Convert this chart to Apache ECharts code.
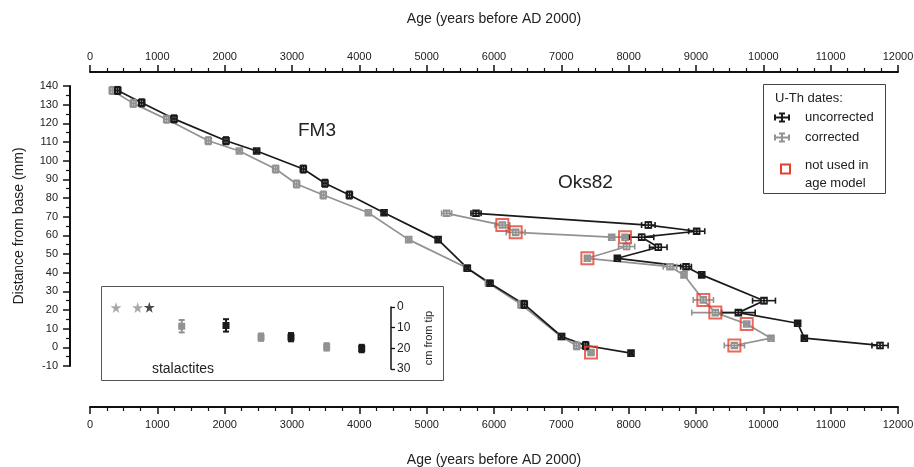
<!DOCTYPE html>
<html>
<head>
<meta charset="utf-8">
<script src="https://cdn.jsdelivr.net/npm/echarts@6/dist/echarts.min.js"></script>
<style>
html,body{margin:0;padding:0;background:#fff;}
#chart{width:914px;height:467px;}
</style>
</head>
<body>
<div id="chart"></div>
<script>
// ---------- DATA ----------
// FM3 uncorrected U-Th ages
const fm3UncAge      = [412, 768, 1248, 2020, 2475, 3168, 3490, 3852, 4367, 5170, 5604, 5941, 6450, 7005, 7361, 8035];
const fm3UncDepth    = [137.6, 131, 122.4, 110.7, 105.2, 95.5, 87.9, 81.6, 72.1, 57.7, 42.4, 34.3, 23, 5.8, 1, -3.1];
const fm3UncAgeErr   = [30, 30, 30, 30, 20, 30, 30, 30, 20, 20, 20, 20, 30, 20, 30, 20];
const fm3UncDepthErr = [2, 2, 2, 2, 0.8, 2, 2, 2, 0.8, 0.8, 0.8, 0.8, 2, 0.8, 2, 0.8];
// FM3 corrected
const fm3CorAge      = [331, 643, 1139, 1757, 2218, 2757, 3069, 3465, 4134, 4733, 5594, 5916, 6401, 6995, 7228, 7441];
const fm3CorDepth    = [137.6, 130.7, 122.2, 110.7, 105.2, 95.5, 87.5, 81.6, 72.1, 57.7, 42.6, 34.5, 23, 5.8, 0.8, -2.8];
const fm3CorAgeErr   = [30, 30, 30, 30, 20, 30, 30, 30, 20, 20, 20, 20, 30, 20, 30, 20];
const fm3CorDepthErr = [2, 2, 2, 2, 0.8, 2, 2, 2, 0.8, 0.8, 0.8, 0.8, 2, 0.8, 2, 0.8];
const fm3NotUsedIdx  = [15];
// Oks82 uncorrected
const oksUncAge      = [5733, 8292, 9010, 8193, 8440, 7832, 8852, 9085, 10010, 9629, 10510, 10609, 11733];
const oksUncDepth    = [71.8, 65.5, 62.2, 59, 53.6, 47.7, 43.2, 38.8, 25, 18.6, 12.9, 4.9, 1];
const oksUncAgeErr   = [75, 100, 120, 180, 130, 25, 80, 25, 170, 250, 25, 25, 120];
const oksUncDepthErr = [1.2, 1.5, 1.2, 1.5, 1.5, 0.8, 1.2, 0.8, 1.5, 1.2, 0.8, 0.8, 1.5];
// Oks82 corrected
const oksCorAge      = [5297, 6124, 6322, 7748, 7946, 7970, 7387, 8614, 8822, 9109, 9287, 9753, 10114, 9570];
const oksCorDepth    = [71.8, 65.5, 61.6, 59, 59, 54, 47.7, 43.2, 38.8, 25.4, 18.6, 12.5, 4.9, 1];
const oksCorAgeErr   = [75, 110, 140, 30, 30, 120, 25, 100, 25, 150, 350, 25, 25, 150];
const oksCorDepthErr = [1.2, 1.2, 1.2, 0.8, 0.8, 1.5, 0.8, 1.2, 0.8, 1.2, 1.2, 0.8, 0.8, 1.2];
const oksNotUsedIdx  = [1, 2, 4, 6, 9, 10, 11, 13];
// Stalactites (inset), cm from tip
const stalGreyStarAge  = [386, 708];
const stalGreyStarCm   = [0.3, 0.3];
const stalBlackStarAge = [881];
const stalBlackStarCm  = [0.1];
const stalGreyAge   = [1362, 2540, 3515];
const stalGreyCm    = [9.3, 14.6, 19.3];
const stalGreyCmErr = [3, 1.8, 1.8];
const stalBlackAge   = [2020, 2985, 4035];
const stalBlackCm    = [8.9, 14.6, 20.1];
const stalBlackCmErr = [3, 2, 1.8];
const stalAgeErr = 20;

// ---------- STYLE ----------
const BLACK = '#1a1a1a';
const GREY = '#929292';
const RED = '#e2422f';
const FONT = "'Liberation Sans', Arial, sans-serif";

function zip4(a, b, c, d) { return a.map((v, i) => [v, b[i], c ? c[i] : 0, d ? d[i] : 0]); }
function pick(age, depth, idx) { return idx.map(i => [age[i], depth[i]]); }

function errRender(color, lw, box, filled) {
  return function (params, api) {
    const x = api.value(0), y = api.value(1), ex = api.value(2), ey = api.value(3);
    const p = api.coord([x, y]);
    const xl = api.coord([x - ex, y])[0], xr = api.coord([x + ex, y])[0];
    const ya = api.coord([x, y + ey])[1], yb = api.coord([x, y - ey])[1];
    const yt = Math.min(ya, yb), ybt = Math.max(ya, yb);
    const cap = 3;
    const st = { stroke: color, lineWidth: lw, fill: null };
    const ch = [];
    ch.push({ type: 'rect', shape: { x: p[0] - box / 2, y: p[1] - box / 2, width: box, height: box },
      style: { stroke: color, lineWidth: lw, fill: filled ? color : '#fff' } });
    if (xr - xl > 2) {
      ch.push({ type: 'line', shape: { x1: xl, y1: p[1], x2: xr, y2: p[1] }, style: st });
      ch.push({ type: 'line', shape: { x1: xl, y1: p[1] - cap, x2: xl, y2: p[1] + cap }, style: st });
      ch.push({ type: 'line', shape: { x1: xr, y1: p[1] - cap, x2: xr, y2: p[1] + cap }, style: st });
    }
    if (ybt - yt > 2) {
      ch.push({ type: 'line', shape: { x1: p[0], y1: yt, x2: p[0], y2: ybt }, style: st });
      ch.push({ type: 'line', shape: { x1: p[0] - cap, y1: yt, x2: p[0] + cap, y2: yt }, style: st });
      ch.push({ type: 'line', shape: { x1: p[0] - cap, y1: ybt, x2: p[0] + cap, y2: ybt }, style: st });
    }
    return { type: 'group', children: ch };
  };
}

function lineSeries(age, depth, color, z) {
  return { type: 'line', xAxisIndex: 0, yAxisIndex: 0, data: age.map((v, i) => [v, depth[i]]),
    symbol: 'none', lineStyle: { color: color, width: 1.7 }, z: z, silent: true, animation: false };
}
function errSeries(data, color, z) {
  return { type: 'custom', xAxisIndex: 0, yAxisIndex: 0, data: data, renderItem: errRender(color, 1.6, 6, false),
    z: z, silent: true, animation: false };
}

const STAR = 'path://M50,0 L61,35 L98,35 L68,57 L79,91 L50,70 L21,91 L32,57 L2,35 L39,35 Z';

function legendGlyph(cx, cy, color) {
  const st = { stroke: color, lineWidth: 2, fill: null };
  const segs = [
    [cx - 7, cy, cx + 7, cy], [cx - 7, cy - 3, cx - 7, cy + 3], [cx + 7, cy - 3, cx + 7, cy + 3],
    [cx, cy - 4, cx, cy + 4], [cx - 3, cy - 4, cx + 3, cy - 4], [cx - 3, cy + 4, cx + 3, cy + 4]
  ];
  return segs.map(s => ({ type: 'line', z: 20, shape: { x1: s[0], y1: s[1], x2: s[2], y2: s[3] }, style: st }));
}

const xAxisCommon = {
  type: 'value', min: 0, max: 12000, interval: 1000,
  axisLine: { show: true, onZero: false, lineStyle: { color: '#111', width: 2 } },
  axisTick: { show: true, length: 7, lineStyle: { color: '#111', width: 1.5 } },
  minorTick: { show: true, splitNumber: 4, length: 4, lineStyle: { color: '#111', width: 1.2 } },
  splitLine: { show: false }, minorSplitLine: { show: false },
  axisLabel: { color: '#222', fontSize: 11, fontFamily: FONT, formatter: v => String(v) },
  name: 'Age (years before AD 2000)', nameLocation: 'middle',
  nameTextStyle: { color: '#222', fontSize: 14, fontFamily: FONT }
};

const option = {
  animation: false,
  backgroundColor: '#fff',
  grid: [
    { left: 90, right: 16, top: 86, bottom: 101, outerBoundsMode: 'none', containLabel: false },
    { left: 90, right: 16, top: 307, bottom: 98, outerBoundsMode: 'none', containLabel: false }
  ],
  xAxis: [
    Object.assign({}, xAxisCommon, { gridIndex: 0, position: 'bottom', offset: 41, nameGap: 46,
      axisLabel: Object.assign({}, xAxisCommon.axisLabel, { margin: 12 }) }),
    Object.assign({}, xAxisCommon, { gridIndex: 0, position: 'top', offset: 14, nameGap: 46,
      axisLabel: Object.assign({}, xAxisCommon.axisLabel, { margin: 10 }) }),
    { type: 'value', gridIndex: 1, min: 0, max: 12000, show: false }
  ],
  yAxis: [
    { type: 'value', gridIndex: 0, min: -10, max: 140, interval: 10, position: 'left', offset: 20,
      axisLine: { show: true, onZero: false, lineStyle: { color: '#111', width: 2 } },
      axisTick: { show: true, length: 7, lineStyle: { color: '#111', width: 1.5 } },
      minorTick: { show: true, splitNumber: 2, length: 4, lineStyle: { color: '#111', width: 1.2 } },
      splitLine: { show: false },
      axisLabel: { color: '#222', fontSize: 11, fontFamily: FONT, margin: 12 },
      name: 'Distance from base (mm)', nameLocation: 'middle', nameGap: 44,
      nameTextStyle: { color: '#222', fontSize: 14, fontFamily: FONT } },
    { type: 'value', gridIndex: 1, min: 0, max: 30, interval: 10, inverse: true, position: 'right', offset: -507,
      axisLine: { show: true, onZero: false, lineStyle: { color: '#111', width: 1.5 } },
      axisTick: { show: true, length: 4, lineStyle: { color: '#111', width: 1.3 } },
      splitLine: { show: false },
      axisLabel: { color: '#222', fontSize: 12, fontFamily: FONT, margin: 6 },
      name: 'cm from tip', nameLocation: 'middle', nameGap: 32, nameRotate: 90,
      nameTextStyle: { color: '#222', fontSize: 11, fontFamily: FONT } }
  ],
  series: [
    lineSeries(fm3CorAge, fm3CorDepth, GREY, 2),
    lineSeries(oksCorAge, oksCorDepth, GREY, 2),
    lineSeries(fm3UncAge, fm3UncDepth, BLACK, 3),
    lineSeries(oksUncAge, oksUncDepth, BLACK, 3),
    errSeries(zip4(fm3CorAge, fm3CorDepth, fm3CorAgeErr, fm3CorDepthErr), GREY, 4),
    errSeries(zip4(oksCorAge, oksCorDepth, oksCorAgeErr, oksCorDepthErr), GREY, 4),
    errSeries(zip4(fm3UncAge, fm3UncDepth, fm3UncAgeErr, fm3UncDepthErr), BLACK, 5),
    errSeries(zip4(oksUncAge, oksUncDepth, oksUncAgeErr, oksUncDepthErr), BLACK, 5),
    { type: 'scatter', xAxisIndex: 0, yAxisIndex: 0,
      data: pick(fm3CorAge, fm3CorDepth, fm3NotUsedIdx).concat(pick(oksCorAge, oksCorDepth, oksNotUsedIdx)),
      symbol: 'rect', symbolSize: 12, z: 6, silent: true,
      itemStyle: { color: 'rgba(0,0,0,0)', borderColor: RED, borderWidth: 2 } },
    // inset
    { type: 'scatter', xAxisIndex: 2, yAxisIndex: 1, data: stalGreyStarAge.map((v, i) => [v, stalGreyStarCm[i]]),
      symbol: STAR, symbolSize: 11, itemStyle: { color: GREY }, z: 5, silent: true },
    { type: 'scatter', xAxisIndex: 2, yAxisIndex: 1, data: stalBlackStarAge.map((v, i) => [v, stalBlackStarCm[i]]),
      symbol: STAR, symbolSize: 11, itemStyle: { color: BLACK }, z: 6, silent: true },
    { type: 'custom', xAxisIndex: 2, yAxisIndex: 1,
      data: stalGreyAge.map((v, i) => [v, stalGreyCm[i], stalAgeErr, stalGreyCmErr[i]]),
      renderItem: errRender(GREY, 2, 5, true), z: 5, silent: true },
    { type: 'custom', xAxisIndex: 2, yAxisIndex: 1,
      data: stalBlackAge.map((v, i) => [v, stalBlackCm[i], stalAgeErr, stalBlackCmErr[i]]),
      renderItem: errRender(BLACK, 2, 5, true), z: 5, silent: true }
  ],
  graphic: [
    { type: 'text', left: 298, top: 121, style: { text: 'FM3', font: '19px ' + FONT, fill: '#222' }, z: 10 },
    { type: 'text', left: 558, top: 173, style: { text: 'Oks82', font: '19px ' + FONT, fill: '#222' }, z: 10 },
    // inset box
    { type: 'rect', shape: { x: 101.5, y: 286.5, width: 342, height: 94 },
      style: { stroke: '#555', lineWidth: 1, fill: null }, z: 1 },
    { type: 'text', x: 183, y: 369, style: { text: 'stalactites', font: '14px ' + FONT, fill: '#222',
      align: 'center', verticalAlign: 'middle' }, z: 10 },
    // legend
    { type: 'rect', shape: { x: 763.5, y: 84.5, width: 122, height: 109 },
      style: { stroke: '#444', lineWidth: 1, fill: '#fff' }, z: 8 },
    { type: 'text', x: 775, y: 98, style: { text: 'U-Th dates:', font: '13px ' + FONT, fill: '#222',
      verticalAlign: 'middle' }, z: 10 },
    { type: 'text', x: 805, y: 117.5, style: { text: 'uncorrected', font: '13px ' + FONT, fill: '#222',
      verticalAlign: 'middle' }, z: 10 },
    { type: 'text', x: 805, y: 137.5, style: { text: 'corrected', font: '13px ' + FONT, fill: '#222',
      verticalAlign: 'middle' }, z: 10 },
    { type: 'text', x: 805, y: 165, style: { text: 'not used in', font: '13px ' + FONT, fill: '#222',
      verticalAlign: 'middle' }, z: 10 },
    { type: 'text', x: 805, y: 183.5, style: { text: 'age model', font: '13px ' + FONT, fill: '#222',
      verticalAlign: 'middle' }, z: 10 },
    { type: 'rect', shape: { x: 781, y: 164.5, width: 9, height: 9 },
      style: { stroke: RED, lineWidth: 2, fill: null }, z: 10 }
  ].concat(legendGlyph(782, 117.5, BLACK), legendGlyph(782, 137.5, GREY))
};

const chart = echarts.init(document.getElementById('chart'), null, { renderer: 'canvas' });
chart.setOption(option);
</script>
</body>
</html>
